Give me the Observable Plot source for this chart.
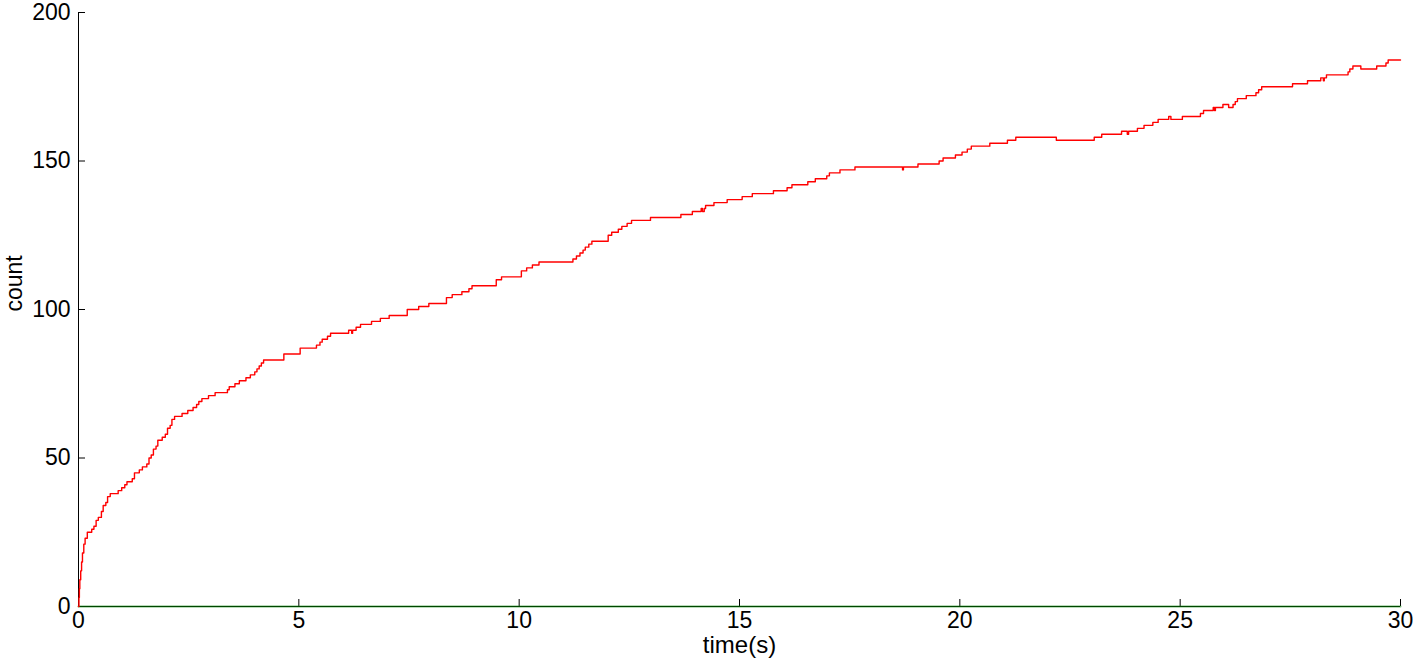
<!DOCTYPE html>
<html>
<head>
<meta charset="utf-8">
<script src="https://cdn.jsdelivr.net/npm/d3@7"></script>
<script src="https://cdn.jsdelivr.net/npm/@observablehq/plot@0.6"></script>
<style>
  html, body { margin: 0; padding: 0; background: white; }
  #chart svg { display: block; }
</style>
</head>
<body>
<div id="chart"></div>
<script>
// Tick values
const xTicks = [0, 5, 10, 15, 20, 25, 30];
const yTicks = [0, 50, 100, 150, 200];

// Red step series: time (s) at which the count changes, and the new count
const times = [
  0, 0.01, 0.02, 0.03, 0.05, 0.07, 0.09, 0.12, 0.15, 0.2, 0.3, 0.35, 0.4, 0.45, 0.52, 0.56, 0.62, 0.66, 0.72,
  0.9, 0.98, 1.05, 1.1, 1.22, 1.27, 1.38, 1.45, 1.55, 1.6, 1.65, 1.7, 1.76, 1.8, 1.9, 1.97, 2.02, 2.08, 2.12,
  2.18, 2.35, 2.48, 2.6, 2.68, 2.73, 2.8, 2.95, 3.1, 3.38, 3.42, 3.55, 3.65, 3.8, 3.9, 4.0, 4.05, 4.1, 4.15,
  4.2, 4.66, 5.03, 5.4, 5.48, 5.53, 5.65, 5.72, 6.13, 6.2, 6.22, 6.3, 6.4, 6.65, 6.85, 7.05, 7.46, 7.72, 7.95,
  8.35, 8.48, 8.7, 8.86, 8.93, 9.48, 9.6, 10.05, 10.17, 10.3, 10.45, 11.22, 11.3, 11.38, 11.45, 11.5, 11.58,
  11.65, 12.02, 12.1, 12.25, 12.33, 12.45, 12.55, 12.98, 13.67, 13.93, 14.13, 14.16, 14.2, 14.23, 14.42, 14.72,
  15.06, 15.29, 15.77, 16.08, 16.19, 16.55, 16.72, 16.98, 17.04, 17.28, 17.62, 18.7, 18.72, 19.05, 19.53,
  19.62, 19.9, 20.05, 20.17, 20.26, 20.68, 21.08, 21.27, 22.19, 23.05, 23.22, 23.67, 23.8, 23.83, 24.03,
  24.18, 24.38, 24.5, 24.74, 24.79, 25.05, 25.46, 25.53, 25.75, 25.78, 25.8, 25.97, 26.1, 26.2, 26.25, 26.3,
  26.5, 26.72, 26.78, 26.85, 27.55, 27.89, 28.19, 28.25, 28.27, 28.32, 28.81, 28.85, 28.92, 29.1, 29.46,
  29.67, 29.72, 30
];
const counts = [
  0, 3, 6, 9, 12, 15, 18, 21, 23, 25, 26, 27, 29, 30, 32, 34, 35, 37, 38,
  39, 40, 41, 42, 43, 45, 46, 47, 48, 50, 51, 53, 54, 56, 57, 58, 60, 61, 63,
  64, 65, 66, 67, 68, 69, 70, 71, 72, 73, 74, 75, 76, 77, 78, 79, 80, 81, 82,
  83, 85, 87, 88, 89, 90, 91, 92, 93, 92, 93, 94, 95, 96, 97, 98, 100, 101, 102,
  104, 105, 106, 107, 108, 110, 111, 113, 114, 115, 116, 117, 118, 119, 120, 121, 122,
  123, 125, 126, 127, 128, 129, 130, 131, 132, 133, 134, 133, 134, 135, 136, 137,
  138, 139, 140, 141, 142, 143, 144, 145, 146, 147, 148, 147, 148, 149, 150,
  151, 152, 153, 154, 155, 156, 157, 158, 157, 158, 159, 160, 159, 160, 161,
  162, 163, 164, 165, 164, 165, 166, 167, 168, 167, 168, 169, 168, 169, 170, 171,
  172, 173, 174, 175, 176, 177, 178, 177, 178, 179, 180, 181, 182, 181, 182,
  183, 184, 184
];

// Green flat series (stays at zero)
const zeroTimes = [0, 30];
const zeroCounts = [0, 0];

const redData = times.map((t, i) => ({t, c: counts[i]}));
const greenData = zeroTimes.map((t, i) => ({t, c: zeroCounts[i]}));

const chart = Plot.plot({
  width: 1413,
  height: 665,
  marginLeft: 78,
  marginRight: 13,
  marginTop: 12,
  marginBottom: 59,
  style: {
    fontFamily: "'Liberation Sans', Arial, Helvetica, sans-serif",
    fontSize: "23px",
    background: "white",
    color: "black"
  },
  x: {domain: [0, 30]},
  y: {domain: [0, 200]},
  marks: [
    Plot.axisX({ticks: xTicks, tickSize: -7, tickPadding: 12, label: null, fontSize: 23}),
    Plot.axisY({ticks: yTicks, tickSize: -7, tickPadding: 15, label: null, fontSize: 23}),
    Plot.ruleX([0], {stroke: "black", strokeWidth: 1}),
    Plot.ruleY([0], {stroke: "black", strokeWidth: 1.2}),
    Plot.line(greenData, {x: "t", y: "c", stroke: "#008000", strokeWidth: 2, strokeOpacity: 0.55}),
    Plot.line(redData, {x: "t", y: "c", curve: "step-after", stroke: "#ff0000", strokeWidth: 1.4}),
    Plot.text(["time(s)"], {frameAnchor: "bottom", dy: 46, fontSize: 24, fill: "black"}),
    Plot.text(["count"], {frameAnchor: "left", dx: -64, dy: 2, rotate: -90, fontSize: 23, fill: "black"})
  ]
});

document.getElementById("chart").appendChild(chart);
</script>
</body>
</html>
